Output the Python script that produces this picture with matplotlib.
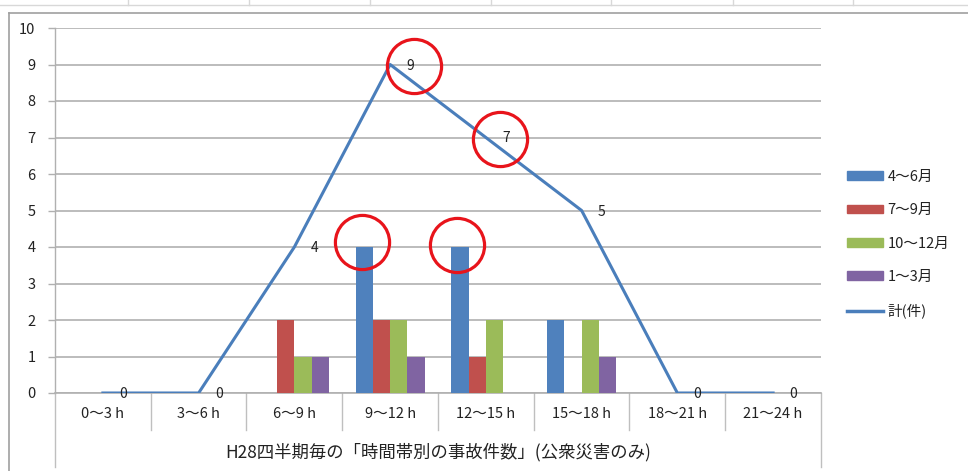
import matplotlib
matplotlib.use("Agg")
import matplotlib.pyplot as plt
import matplotlib.transforms as mtrans
import numpy as np
from matplotlib.patches import Patch
from matplotlib.lines import Line2D

plt.rcParams['font.family'] = ['Noto Sans CJK JP', 'DejaVu Sans']

categories = ["0〜3 h", "3〜6 h", "6〜9 h", "9〜12 h", "12〜15 h", "15〜18 h", "18〜21 h", "21〜24 h"]
series_names = ["4〜6月", "7〜9月", "10〜12月", "1〜3月"]
q1 = [0, 0, 0, 4, 4, 2, 0, 0]
q2 = [0, 0, 2, 2, 1, 0, 0, 0]
q3 = [0, 0, 1, 2, 2, 2, 0, 0]
q4 = [0, 0, 1, 1, 0, 1, 0, 0]
total = [0, 0, 4, 9, 7, 5, 0, 0]
total_name = "計(件)"
axis_title = "H28四半期毎の「時間帯別の事故件数」(公衆災害のみ)"
yticks = list(range(0, 11))

colors = ["#4F81BD", "#C0504D", "#9BBB59", "#8064A2"]
line_color = "#4A7EBB"

W, H = 968, 471
fig = plt.figure(figsize=(W / 100, H / 100), dpi=100)
fig.patch.set_facecolor("white")

x0, x1, y0, y1 = 55, 821, 28, 393
ax = fig.add_axes([x0 / W, 1 - y1 / H, (x1 - x0) / W, (y1 - y0) / H])

x = np.arange(len(categories))
bw = 0.18
for i, (vals, c) in enumerate(zip([q1, q2, q3, q4], colors)):
    ax.bar(x + (i - 1.5) * bw, vals, width=bw, color=c, zorder=3)

ax.plot(x, total, color=line_color, lw=2.2, zorder=4)
for xi, v in zip(x, total):
    ax.annotate(str(v), (xi, v), xytext=(20, -1), textcoords="offset pixels",
                ha="center", va="center", fontsize=10, color="#222222", zorder=5)

# red highlight circles (offsets in pixels)
circ = dict(marker="o", ms=39, mfc="none", mec="#E8141B", mew=2.3, ls="none",
            zorder=6, clip_on=False)

def px(dx, dy):
    return ax.transData + mtrans.ScaledTranslation(dx / 100, dy / 100, fig.dpi_scale_trans)

ax.plot([3], [total[3]], transform=px(24, -1), **circ)
ax.plot([4], [total[4]], transform=px(14, -1), **circ)
ax.plot([3 - 1.5 * bw], [q1[3]], transform=px(-2, 5), **circ)
ax.plot([4 - 1.5 * bw], [q1[4]], transform=px(-3, 2), **circ)

ax.set_xlim(-0.5, len(categories) - 0.5)
ax.set_ylim(0, 10)
ax.set_yticks(yticks)
ax.set_yticklabels([str(t) for t in yticks], fontsize=10.5, color="#222222")
ax.yaxis.grid(True, color="#B0B0B0", lw=1.2, zorder=0)
ax.set_axisbelow(True)
ax.tick_params(axis="y", length=5, color="#B0B0B0", pad=9, width=1)
ax.set_xticks([])
for s in ["top", "right"]:
    ax.spines[s].set_visible(False)
ax.spines["left"].set_color("#B0B0B0")
ax.spines["bottom"].set_color("#B0B0B0")
ax.spines["left"].set_linewidth(1)
ax.spines["bottom"].set_linewidth(1.2)

# multi-level category axis
tr = mtrans.blended_transform_factory(ax.transData, fig.transFigure)
for b in range(len(categories) + 1):
    xb = b - 0.5
    ybot = 4 if b in (0, len(categories)) else 41
    ax.plot([xb, xb], [1 - y1 / H, ybot / H], transform=tr, color="#BFBFBF", lw=1, clip_on=False)
for xi, lab in zip(x, categories):
    ax.text(xi, 1 - 414 / H, lab, transform=tr, ha="center", va="center", fontsize=10.5,
            color="#222222")
ax.text((len(categories) - 1) / 2, 1 - 452 / H, axis_title, transform=tr,
        ha="center", va="center", fontsize=12.5, color="#222222")

handles = [Patch(color=c) for c in colors] + [Line2D([0], [0], color=line_color, lw=2.5)]
leg = fig.legend(handles, series_names + [total_name], loc="upper left",
                 bbox_to_anchor=(841 / W, 1 - 164 / H), frameon=False, fontsize=10.5,
                 handlelength=2.45, handleheight=0.55, labelspacing=1.33, handletextpad=0.35,
                 borderaxespad=0)
for t in leg.get_texts():
    t.set_color("#222222")

# chart border and spreadsheet grid
fig.add_artist(Line2D([9 / W, 9 / W], [0, 1 - 13 / H], color="#A0A0A0", lw=1.2))
fig.add_artist(Line2D([9 / W, 1], [1 - 13 / H, 1 - 13 / H], color="#A0A0A0", lw=1.2))
fig.add_artist(Line2D([0, 1], [1 - 5 / H, 1 - 5 / H], color="#D8D8D8", lw=1))
for gx in [128, 249, 370, 491, 611, 733, 853]:
    fig.add_artist(Line2D([gx / W, gx / W], [1 - 5 / H, 1], color="#D8D8D8", lw=1))

fig.savefig("out.png", dpi=100)
